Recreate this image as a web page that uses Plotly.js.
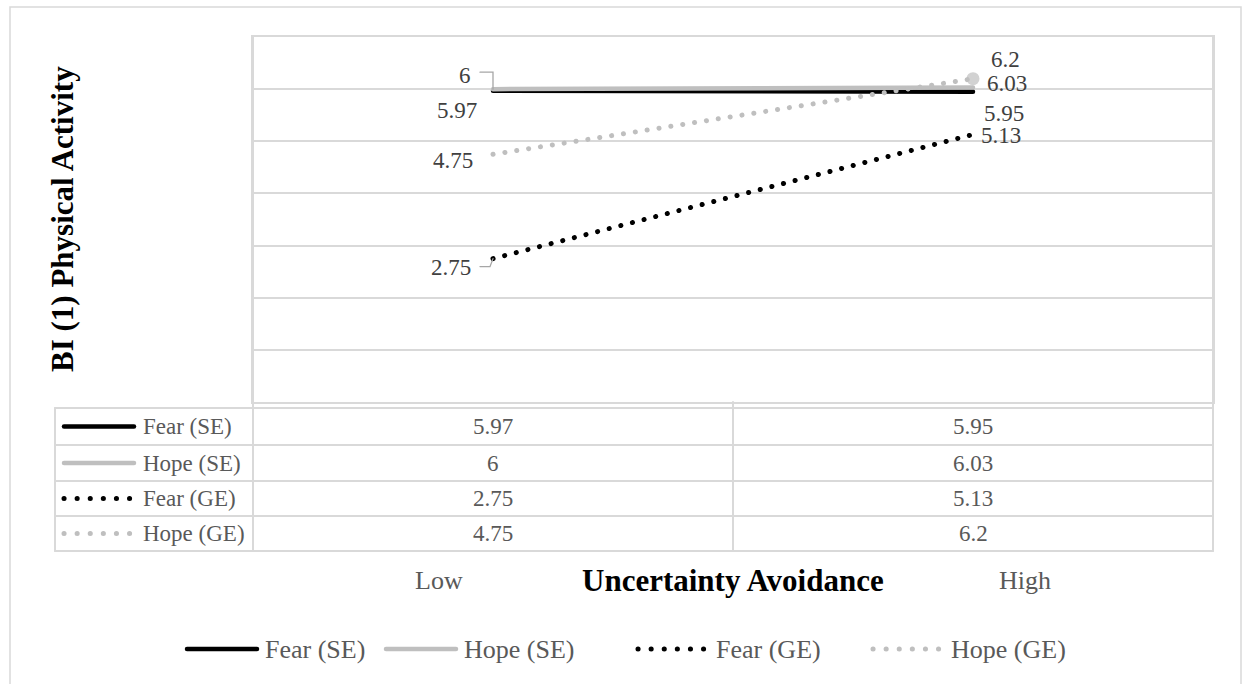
<!DOCTYPE html>
<html>
<head>
<meta charset="utf-8">
<script src="https://cdn.plot.ly/plotly-3.0.1.min.js"></script>
<style>
  html, body { margin: 0; padding: 0; background: #ffffff; }
  #chart { width: 1242px; height: 684px; }
  .js-line, .shapelayer path { stroke-linecap: round; }
</style>
</head>
<body>
<div id="chart"></div>
<script>
// ---- data ----
const categories = ['Low', 'High'];
const seriesNames = ['Fear (SE)', 'Hope (SE)', 'Fear (GE)', 'Hope (GE)'];
const fearSE = [5.97, 5.95];
const hopeSE = [6, 6.03];
const fearGE = [2.75, 5.13];
const hopeGE = [4.75, 6.2];
const xAxisTitle = 'Uncertainty Avoidance';
const yAxisTitle = 'BI (1) Physical Activity';

// ---- styles / layout helpers (not data) ----
const seriesValues = [fearSE, hopeSE, fearGE, hopeGE];
const seriesStyles = [
  {color: '#000000', dash: 'solid', width: 4.5},
  {color: '#BFBFBF', dash: 'solid', width: 4.5},
  {color: '#000000', dash: '0.1px,11.9px', width: 5},
  {color: '#BFBFBF', dash: '0.1px,11.9px', width: 5}
];
// label offsets in pixels [xshift, yshift] per series per category
const labelShifts = [
  [[-36, -20], [31, -22]],
  [[-28, 14], [34, 4]],
  [[-42, -9], [28, -1]],
  [[-40, -6], [32, 19]]
];

const W = 1242, H = 684;
const L = 253, R = 1213, T = 37, B = 402;
const pw = R - L, ph = B - T;
const px = v => (v - L) / pw;
const py = v => (B - v) / ph;

const FONT = 'Liberation Serif, Times New Roman, serif';
const GRID = '#D9D9D9';
const TXT = '#595959';
const LBL = '#404040';

const traces = seriesValues.map((vals, i) => {
  const s = seriesStyles[i];
  const t = {
    type: 'scatter',
    mode: 'lines',
    name: seriesNames[i],
    x: categories,
    y: vals,
    line: {color: s.color, width: s.width, dash: s.dash},
    showlegend: false,
    hoverinfo: 'skip'
  };
  if (i === 3) {
    t.mode = 'lines+markers';
    t.marker = {size: vals.map((v, k) => k === vals.length - 1 ? 13 : 0), color: s.color, line: {width: 0}};
  }
  return t;
});

const annotations = [];
const shapes = [];

function note(o) {
  return Object.assign({showarrow: false, xanchor: 'center', yanchor: 'middle'}, o);
}

// data labels
seriesValues.forEach((vals, i) => {
  vals.forEach((v, k) => {
    annotations.push(note({
      x: categories[k], y: v, xref: 'x', yref: 'y',
      text: String(v),
      xshift: labelShifts[i][k][0], yshift: labelShifts[i][k][1],
      font: {family: FONT, size: 23, color: LBL}
    }));
  });
});

// leader lines for "6" (Hope SE Low) and "2.75" (Fear GE Low)
shapes.push({
  type: 'path', xref: 'x', yref: 'y', xsizemode: 'pixel', ysizemode: 'pixel',
  xanchor: categories[0], yanchor: hopeSE[0],
  path: 'M-13,17 L0,17 L0,0', line: {color: '#A6A6A6', width: 1.3}
});
shapes.push({
  type: 'path', xref: 'x', yref: 'y', xsizemode: 'pixel', ysizemode: 'pixel',
  xanchor: categories[0], yanchor: fearGE[0],
  path: 'M-13,-8 L-3,-8 L0,0', line: {color: '#A6A6A6', width: 1.3}
});

// outer chart border
shapes.push({type: 'rect', xref: 'paper', yref: 'paper',
  x0: px(10), x1: px(1241), y0: py(7), y1: py(700),
  line: {color: GRID, width: 1.5}, fillcolor: 'rgba(0,0,0,0)', layer: 'below'});

// data table grid
const rowEdges = [408, 445, 481, 516, 551];
const rowCenters = [426.5, 463, 498.5, 533.5];
const tableLeft = 55;
rowEdges.forEach(y => {
  shapes.push({type: 'line', xref: 'paper', yref: 'paper',
    x0: px(tableLeft), x1: px(R), y0: py(y), y1: py(y), line: {color: GRID, width: 2}});
});
shapes.push({type: 'line', xref: 'paper', yref: 'paper', x0: px(tableLeft), x1: px(tableLeft), y0: py(408), y1: py(551), line: {color: GRID, width: 2}});
shapes.push({type: 'line', xref: 'paper', yref: 'paper', x0: px(L), x1: px(L), y0: py(T), y1: py(551), line: {color: GRID, width: 2}});
shapes.push({type: 'line', xref: 'paper', yref: 'paper', x0: px(R), x1: px(R), y0: py(T), y1: py(551), line: {color: GRID, width: 2}});
shapes.push({type: 'line', xref: 'paper', yref: 'paper', x0: px(733), x1: px(733), y0: py(B), y1: py(551), line: {color: GRID, width: 2}});

// table rows: key, name, values
seriesNames.forEach((name, i) => {
  const s = seriesStyles[i];
  const yc = py(rowCenters[i]);
  shapes.push({type: 'line', xref: 'paper', yref: 'paper',
    x0: px(64), x1: px(134), y0: yc, y1: yc,
    line: {color: s.color, width: s.width, dash: s.dash === 'solid' ? 'solid' : '0.1px,13px'}});
  annotations.push(note({x: px(141), y: yc, xref: 'paper', yref: 'paper', xanchor: 'left',
    text: name, font: {family: FONT, size: 23, color: TXT}}));
  seriesValues[i].forEach((v, k) => {
    annotations.push(note({x: categories[k], y: yc, xref: 'x', yref: 'paper',
      text: String(v), font: {family: FONT, size: 23, color: TXT}}));
  });
});

// axis titles and category labels
annotations.push(note({x: px(733), y: py(580), xref: 'paper', yref: 'paper', text: '<b>' + xAxisTitle + '</b>',
  font: {family: FONT, size: 31, color: '#000000'}}));
annotations.push(note({x: px(439), y: py(580), xref: 'paper', yref: 'paper', text: categories[0],
  font: {family: FONT, size: 26, color: TXT}}));
annotations.push(note({x: px(1025), y: py(580), xref: 'paper', yref: 'paper', text: categories[1],
  font: {family: FONT, size: 26, color: TXT}}));
annotations.push(note({x: px(63), y: py(219), xref: 'paper', yref: 'paper', text: '<b>' + yAxisTitle + '</b>',
  textangle: -90, font: {family: FONT, size: 31, color: '#000000'}}));

// bottom legend
const legendKeys = [187, 386, 638, 873];
const legendY = py(649);
seriesNames.forEach((name, i) => {
  const s = seriesStyles[i];
  shapes.push({type: 'line', xref: 'paper', yref: 'paper',
    x0: px(legendKeys[i]), x1: px(legendKeys[i] + 70), y0: legendY, y1: legendY,
    line: {color: s.color, width: s.width, dash: s.dash === 'solid' ? 'solid' : '0.1px,13px'}});
  annotations.push(note({x: px(legendKeys[i] + 76), y: legendY, xref: 'paper', yref: 'paper', xanchor: 'left',
    text: name, font: {family: FONT, size: 26, color: TXT}}));
});

const layout = {
  width: W, height: H,
  margin: {l: L, r: W - R, t: T, b: H - B, pad: 0},
  paper_bgcolor: '#ffffff', plot_bgcolor: '#ffffff',
  showlegend: false,
  xaxis: {type: 'category', range: [-0.5, 1.5], showticklabels: false, showgrid: false,
    zeroline: false, showline: true, mirror: true, linecolor: GRID, linewidth: 2, ticks: ''},
  yaxis: {range: [0, 7], dtick: 1, tick0: 0, showticklabels: false, showgrid: true, gridcolor: GRID,
    gridwidth: 2, zeroline: false, showline: true, mirror: true, linecolor: GRID, linewidth: 2, ticks: ''},
  annotations: annotations,
  shapes: shapes,
  font: {family: FONT}
};

Plotly.newPlot('chart', traces, layout, {displayModeBar: false, staticPlot: true});
</script>
</body>
</html>
